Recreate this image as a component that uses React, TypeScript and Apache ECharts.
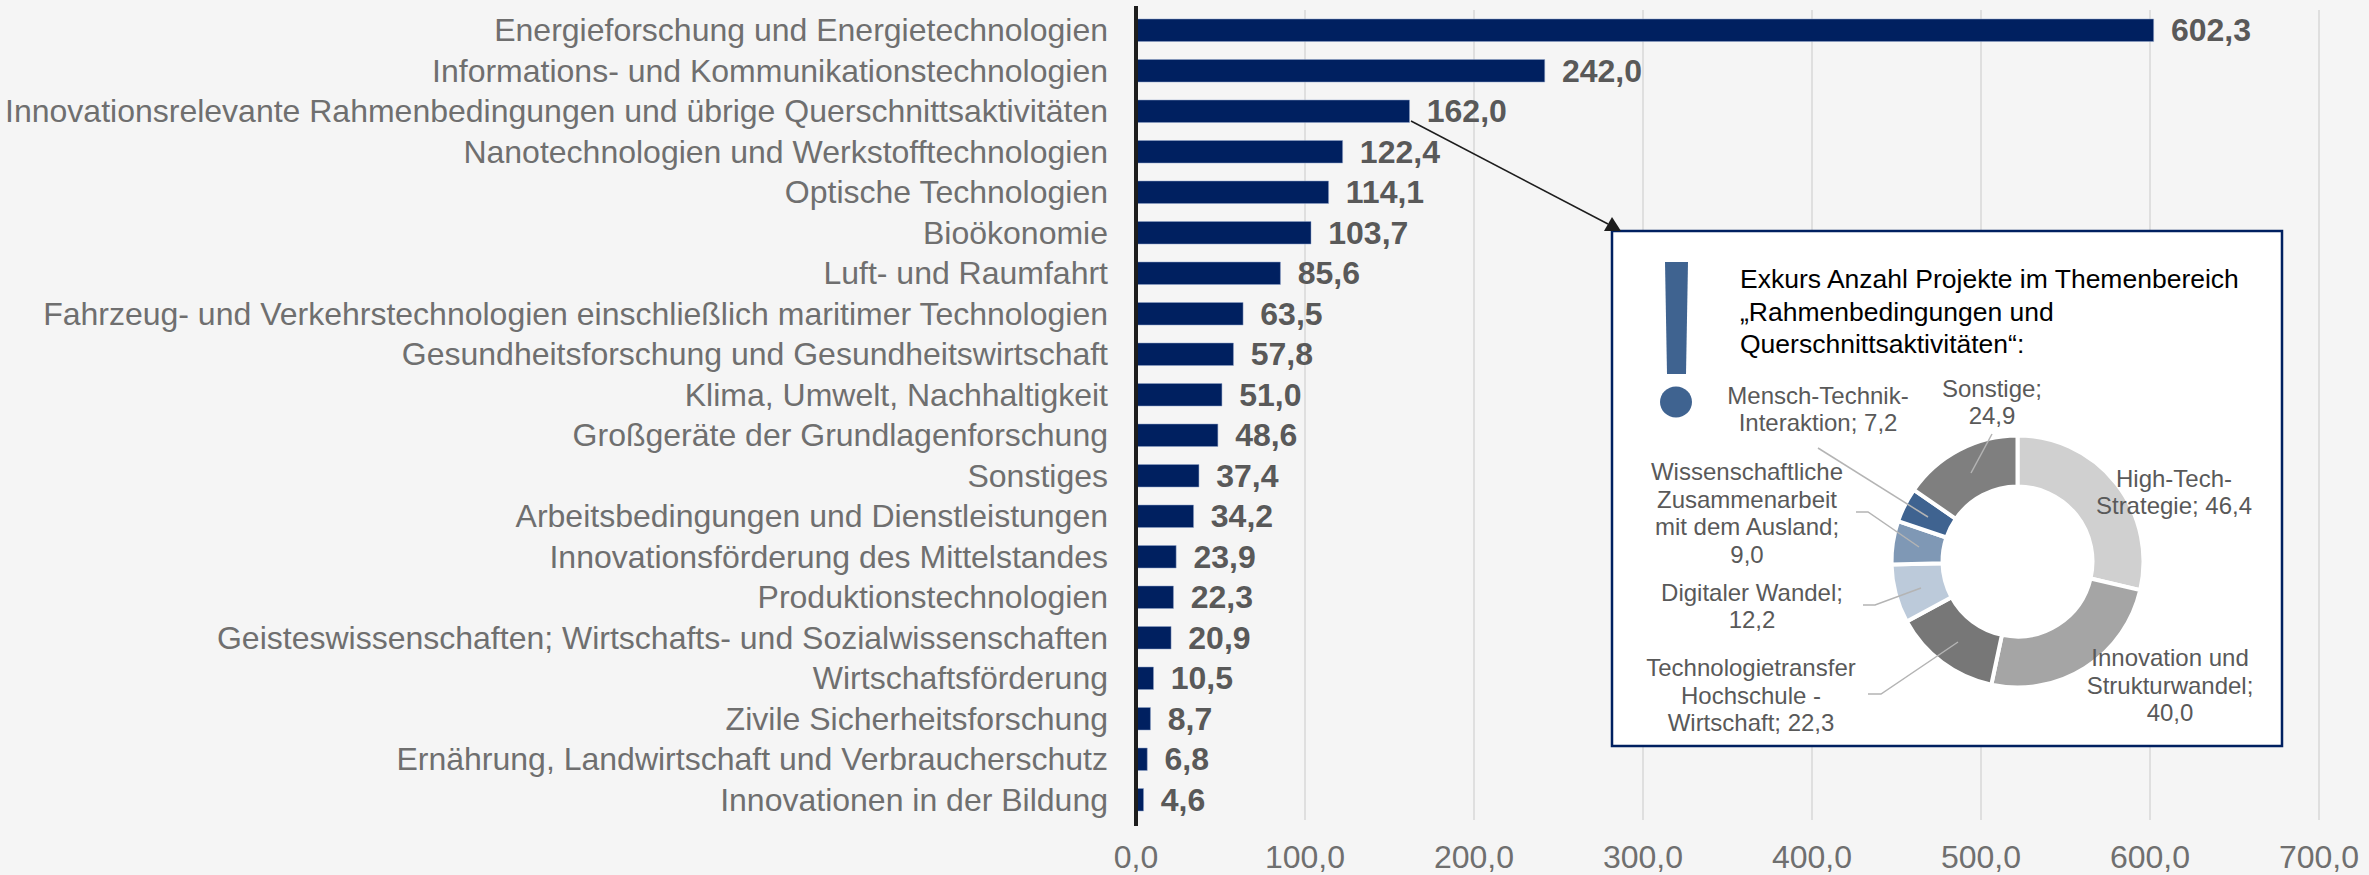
import React, { useEffect, useRef } from "react";
import * as echarts from "echarts";

const categories = [
  "Energieforschung und Energietechnologien",
  "Informations- und Kommunikationstechnologien",
  "Innovationsrelevante Rahmenbedingungen und übrige Querschnittsaktivitäten",
  "Nanotechnologien und Werkstofftechnologien",
  "Optische Technologien",
  "Bioökonomie",
  "Luft- und Raumfahrt",
  "Fahrzeug- und Verkehrstechnologien einschließlich maritimer Technologien",
  "Gesundheitsforschung und Gesundheitswirtschaft",
  "Klima, Umwelt, Nachhaltigkeit",
  "Großgeräte der Grundlagenforschung",
  "Sonstiges",
  "Arbeitsbedingungen und Dienstleistungen",
  "Innovationsförderung des Mittelstandes",
  "Produktionstechnologien",
  "Geisteswissenschaften; Wirtschafts- und Sozialwissenschaften",
  "Wirtschaftsförderung",
  "Zivile Sicherheitsforschung",
  "Ernährung, Landwirtschaft und Verbraucherschutz",
  "Innovationen in der Bildung",
];
const values = [602.3, 242.0, 162.0, 122.4, 114.1, 103.7, 85.6, 63.5, 57.8, 51.0, 48.6, 37.4, 34.2, 23.9, 22.3, 20.9, 10.5, 8.7, 6.8, 4.6];

const pieLabels = [
  "High-Tech-\nStrategie; 46,4",
  "Innovation und\nStrukturwandel;\n40,0",
  "Technologietransfer\nHochschule -\nWirtschaft; 22,3",
  "Digitaler Wandel;\n12,2",
  "Wissenschaftliche\nZusammenarbeit\nmit dem Ausland;\n9,0",
  "Mensch-Technik-\nInteraktion; 7,2",
  "Sonstige;\n24,9",
];
const pieValues = [46.4, 40.0, 22.3, 12.2, 9.0, 7.2, 24.9];
const pieColors = ["#d0d0d0", "#a5a5a5", "#777777", "#bccada", "#7f98b5", "#3f6390", "#7f7f7f"];
const pieLabelPos = [[2174, 492], [2170, 685], [1751, 695], [1752, 606], [1747, 513], [1818, 409], [1992, 402]];
const leaderLines = [
  [[1868, 694], [1881, 694], [1958, 642]],
  [[1863, 605], [1875, 605], [1921, 588]],
  [[1856, 512], [1868, 512], [1919, 547]],
  [[1818, 448], [1928, 517]],
  [[1992, 434], [1971, 473]],
];
const boxTitle = ["Exkurs Anzahl Projekte im Themenbereich", "„Rahmenbedingungen und", "Querschnittsaktivitäten“:"];

const FONT = "Liberation Sans";

export default function App() {
  const ref = useRef<HTMLDivElement>(null);
  useEffect(() => {
    document.body.style.margin = "0";
    document.body.style.background = "#f5f5f5";
    const chart = echarts.init(ref.current!, undefined, { renderer: "svg" });
    chart.setOption({
      animation: false,
      backgroundColor: "#f5f5f5",
      textStyle: { fontFamily: FONT },
      grid: { left: 1136, right: 50, top: 10, bottom: 55 },
      xAxis: {
        type: "value",
        min: 0,
        max: 700,
        interval: 100,
        axisLine: { show: false },
        axisTick: { show: false },
        splitLine: { lineStyle: { color: "#dfdfdf", width: 2 } },
        axisLabel: {
          color: "#6f6f6f",
          fontSize: 32,
          fontFamily: FONT,
          margin: 21,
          formatter: (v: number) => v.toFixed(1).replace(".", ","),
        },
      },
      yAxis: {
        type: "category",
        inverse: true,
        data: categories,
        axisTick: { show: false },
        axisLine: { show: false },
        axisLabel: {
          color: "#6f6f6f",
          fontSize: 32,
          fontFamily: FONT,
          margin: 28,
          interval: 0,
          padding: [0, 0, 3, 0],
        },
      },
      series: [
        {
          type: "bar",
          data: values,
          barWidth: 23,
          itemStyle: { color: "#002060", borderColor: "#8fa3c8", borderWidth: 0.5 },
          label: {
            show: true,
            position: "right",
            distance: 17,
            color: "#595959",
            fontSize: 32,
            fontWeight: "bold",
            fontFamily: FONT,
            padding: [0, 0, 3, 0],
            formatter: (p: any) => p.value.toFixed(1).replace(".", ","),
          },
        },
        {
          type: "pie",
          z: 3,
          center: [2017.5, 561.5],
          radius: [75, 126],
          startAngle: 90,
          clockwise: true,
          data: pieValues.map((v, i) => ({
            value: v,
            name: pieLabels[i],
            itemStyle: { color: pieColors[i] },
          })),
          itemStyle: { borderColor: "#ffffff", borderWidth: 4 },
          label: {
            show: true,
            position: "outside",
            color: "#595959",
            fontSize: 24,
            lineHeight: 27.5,
            fontFamily: FONT,
            align: "center",
            formatter: (p: any) => p.name,
          },
          labelLine: { show: false },
          labelLayout: (p: any) => ({
            x: pieLabelPos[p.dataIndex][0],
            y: pieLabelPos[p.dataIndex][1],
            align: "center",
            verticalAlign: "middle",
          }),
          emphasis: { disabled: true },
        },
      ],
      graphic: [
        { type: "line", z: 5, shape: { x1: 1136, y1: 6, x2: 1136, y2: 826 }, style: { stroke: "#1d1d1d", lineWidth: 4 } },
        { type: "line", z: 5, shape: { x1: 1411, y1: 121, x2: 1608, y2: 224 }, style: { stroke: "#1d1d1d", lineWidth: 1.5 } },
        { type: "polygon", z: 5, shape: { points: [[1612, 217], [1604, 231], [1621, 231]] }, style: { fill: "#1d1d1d" } },
        { type: "rect", z: 1, shape: { x: 1612, y: 231, width: 670, height: 515 }, style: { fill: "#ffffff", stroke: "#002060", lineWidth: 2.5 } },
        { type: "polygon", z: 5, shape: { points: [[1665, 262], [1688, 262], [1686, 374], [1667, 374]] }, style: { fill: "#3f6390" } },
        { type: "ellipse", z: 5, shape: { cx: 1676, cy: 402, rx: 16, ry: 15.5 }, style: { fill: "#3f6390" } },
        ...leaderLines.map((pts) => ({
          type: "polyline",
          z: 5,
          shape: { points: pts },
          style: { stroke: "#b4b4b4", lineWidth: 1.5, fill: "none" },
        })),
        ...boxTitle.map((t, i) => ({
          type: "text",
          z: 5,
          x: 1740,
          y: 279 + i * 32.5,
          style: { text: t, fill: "#000000", font: `26.5px "${FONT}"`, textAlign: "left", textVerticalAlign: "middle" },
        })),
      ],
    });
    return () => chart.dispose();
  }, []);
  return <div ref={ref} style={{ width: 2369, height: 875 }} />;
}
